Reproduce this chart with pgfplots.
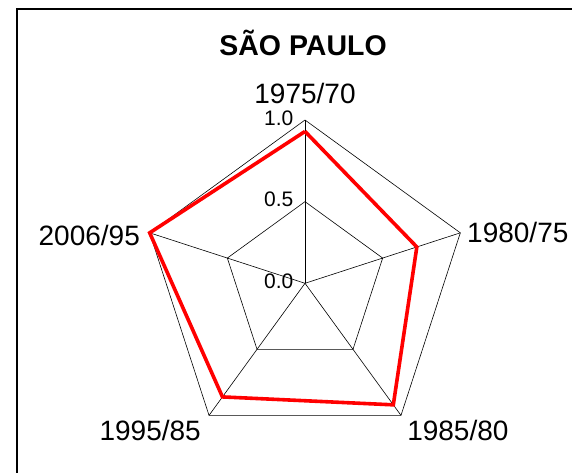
\documentclass[border=0pt]{standalone}
\usepackage{pgfplots}
\pgfplotsset{compat=1.18}
\usepackage{fontspec}
\setmainfont{Liberation Sans}
\begin{document}
\begin{tikzpicture}
\begin{axis}[
  hide axis,
  scale only axis,
  width=572pt, height=473pt,
  xmin=-1.8677, xmax=1.6350,
  ymin=-1.1617, ymax=1.7349,
  clip=true,
]
% frame
\draw[black, line width=1.4pt] (axis cs:-1.7636,-1.3) -- (axis cs:-1.7636,1.6797) -- (axis cs:1.634,1.6797);
% grid polygons
\addplot[black, line width=0.6pt, data cs=polar] coordinates {(90,1) (18,1) (-54,1) (-126,1) (162,1) (90,1)};
\addplot[black, line width=0.6pt, data cs=polar] coordinates {(90,0.5) (18,0.5) (-54,0.5) (-126,0.5) (162,0.5) (90,0.5)};
% spokes
\addplot[black, line width=0.6pt, data cs=polar] coordinates {(90,0) (90,1)};
\addplot[black, line width=0.6pt, data cs=polar] coordinates {(18,0) (18,1)};
\addplot[black, line width=0.6pt, data cs=polar] coordinates {(-54,0) (-54,1)};
\addplot[black, line width=0.6pt, data cs=polar] coordinates {(-126,0) (-126,1)};
\addplot[black, line width=0.6pt, data cs=polar] coordinates {(162,0) (162,1)};
% data
\addplot[red, line width=3.6pt, line join=miter, data cs=polar] coordinates {(90,0.93) (18,0.72) (-54,0.92) (-126,0.86) (162,1.0) (90,0.93)};
% tick labels
\node[anchor=base east, inner sep=0pt, font=\fontsize{21}{23}\selectfont] at (axis cs:-0.07,0.969) {1.0};
\node[anchor=base east, inner sep=0pt, font=\fontsize{21}{23}\selectfont] at (axis cs:-0.07,0.469) {0.5};
\node[anchor=base east, inner sep=0pt, font=\fontsize{21}{23}\selectfont] at (axis cs:-0.07,-0.031) {0.0};
% category labels
\node[anchor=base, inner sep=0pt, font=\fontsize{28}{30}\selectfont] at (axis cs:0,1.098) {1975/70};
\node[anchor=base west, inner sep=0pt, font=\fontsize{28}{30}\selectfont] at (axis cs:0.992,0.247) {1980/75};
\node[anchor=base west, inner sep=0pt, font=\fontsize{28}{30}\selectfont] at (axis cs:0.625,-0.96) {1985/80};
\node[anchor=base east, inner sep=0pt, font=\fontsize{28}{30}\selectfont] at (axis cs:-0.637,-0.96) {1995/85};
\node[anchor=base east, inner sep=0pt, font=\fontsize{28}{30}\selectfont] at (axis cs:-1.01,0.229) {2006/95};
% title
\node[anchor=base, inner sep=0pt, font=\bfseries\fontsize{28.5}{30}\selectfont] at (axis cs:-0.012,1.392) {SÃO PAULO};
\end{axis}
\pgfresetboundingbox
\path (current axis.south west) rectangle (current axis.north east);
\end{tikzpicture}
\end{document}
